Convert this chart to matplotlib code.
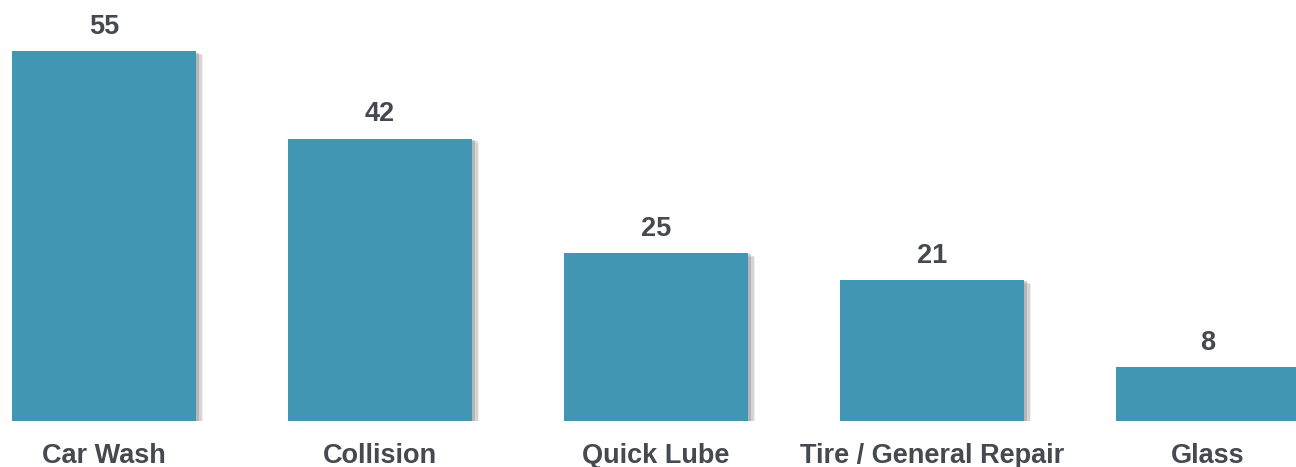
import numpy as np
import matplotlib.pyplot as plt
import matplotlib.patheffects as pe

categories = ["Car Wash", "Collision", "Quick Lube", "Tire / General Repair", "Glass"]
values = [55, 42, 25, 21, 8]

plt.rcParams['font.family'] = ['Liberation Sans', 'DejaVu Sans']
text_color = '#454a50'
bar_color = '#4196b4'

fig = plt.figure(figsize=(12.96, 4.67), dpi=100)
ax = fig.add_axes([0, 46 / 467, 1, 421 / 467])

x = np.arange(len(categories))
# soft drop shadow, built from a few offset layers
shadow = [pe.SimplePatchShadow(offset=(5, -3), shadow_rgbFace='#c8c8c8', alpha=0.3),
          pe.SimplePatchShadow(offset=(4, -2), shadow_rgbFace='#a8a8a8', alpha=0.35),
          pe.SimplePatchShadow(offset=(2, -1), shadow_rgbFace='#888888', alpha=0.4),
          pe.Normal()]
bars = ax.bar(x, values, width=0.667, color=bar_color, path_effects=shadow)

for xi, v in zip(x, values):
    ax.annotate(str(v), (xi, v), xytext=(0, 8), textcoords='offset points',
                ha='center', va='bottom', fontsize=19.5, fontweight='bold', color=text_color)

ax.set_xlim(-0.377, 4.319)
ax.set_ylim(0, 62.6)
ax.set_xticks(x)
ax.set_xticklabels(categories, fontsize=19.5, fontweight='bold', color=text_color)
ax.tick_params(axis='x', length=0, pad=16)
ax.set_yticks([])
for s in ax.spines.values():
    s.set_visible(False)

fig.savefig('out.png', dpi=100)
